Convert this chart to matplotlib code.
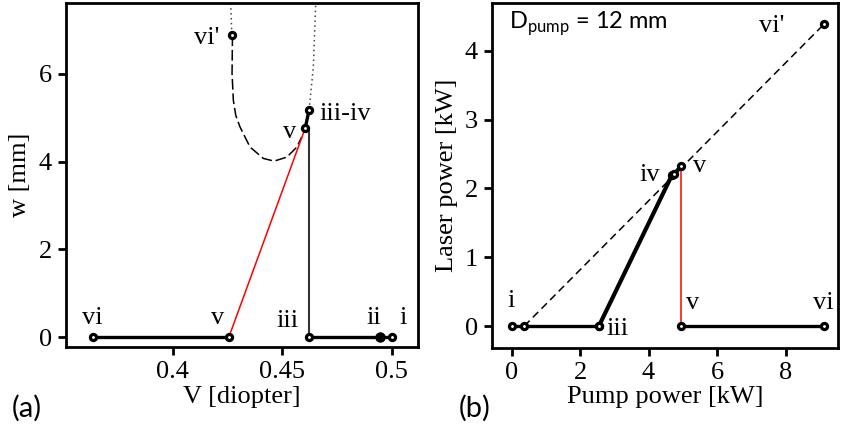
import matplotlib
matplotlib.use("Agg")
import matplotlib.pyplot as plt

plt.rcParams['font.family'] = ['Liberation Serif', 'DejaVu Serif']
plt.rcParams['mathtext.fontset'] = 'custom'
plt.rcParams['mathtext.rm'] = 'Lato'

# ---- panel (a): w vs V ----
a_base_left_x = [0.3635, 0.4256]
a_base_right_x = [0.4623, 0.4947, 0.5]
a_red_x = [0.4256, 0.4605]
a_red_y = [0.0, 4.76]
a_vert_x = [0.4623, 0.4623]
a_vert_y = [0.0, 4.76]
a_jump_x = [0.4605, 0.4623]
a_jump_y = [4.76, 5.18]
a_vip = (0.4273, 6.87)
a_dash_x = [0.4273, 0.4271, 0.4277, 0.4288, 0.4307, 0.4353, 0.4414, 0.4463, 0.4521, 0.4567, 0.4589]
a_dash_y = [6.87, 6.0, 5.39, 5.05, 4.79, 4.33, 4.07, 4.01, 4.10, 4.33, 4.56]
a_dot_left_x = [0.4265, 0.4270]
a_dot_left_y = [7.6, 6.87]
a_dot_right_x = [0.4623, 0.4627, 0.4642, 0.4653]
a_dot_right_y = [5.18, 5.39, 6.15, 7.6]
a_labels = [("vi", 0.3635, 0.44, 'center'), ("v", 0.4207, 0.44, 'center'),
            ("iii", 0.4523, 0.37, 'center'), ("ii", 0.4916, 0.44, 'center'),
            ("i", 0.505, 0.44, 'center'), ("v", 0.4536, 4.67, 'center'),
            ("iii-iv", 0.4668, 5.09, 'left'), ("vi'", 0.4155, 6.8, 'center')]

# ---- panel (b): laser power vs pump power ----
b_low_x = [0.0, 0.37, 2.55]
b_rise_x = [2.55, 4.68, 4.74, 4.96]
b_rise_y = [0.0, 2.19, 2.21, 2.32]
b_red_x = [4.96, 4.96]
b_red_y = [2.32, 0.0]
b_high_x = [4.96, 9.13]
b_dash_x = [0.37, 9.13]
b_dash_y = [0.0, 4.39]
b_labels = [("i", 0.0, 0.36, 'center'), ("iii", 3.08, -0.04, 'center'),
            ("iv", 4.04, 2.19, 'center'), ("v", 5.5, 2.32, 'center'),
            ("v", 5.3, 0.33, 'center'), ("vi", 9.1, 0.33, 'center'),
            ("vi'", 7.59, 4.36, 'center')]

FS = 19
mk = dict(marker='o', ms=4.4, mfc='white', mec='black', mew=2.3)

fig = plt.figure(figsize=(8.44, 4.29), dpi=100)
axa = fig.add_axes([0.0782, 0.1911, 0.4171, 0.8012])
axb = fig.add_axes([0.5826, 0.1895, 0.4106, 0.8028])

# panel a
axa.plot(a_dot_left_x, a_dot_left_y, color='#444444', lw=1.1, ls=(0, (1, 2.2)))
axa.plot(a_dot_right_x, a_dot_right_y, color='#444444', lw=1.1, ls=(0, (1, 2.2)))
axa.plot(a_dash_x, a_dash_y, color='black', lw=1.1, ls=(0, (7, 2.5)))
axa.plot(a_vert_x, a_vert_y, color='#333333', lw=1.5)
axa.plot(a_red_x, a_red_y, color='red', lw=1.1)
axa.plot(a_base_left_x, [0] * len(a_base_left_x), color='black', lw=2.4, **mk)
axa.plot(a_base_right_x, [0] * len(a_base_right_x), color='black', lw=2.4, **mk)
axa.plot([a_base_right_x[1]], [0], marker='o', ms=6.5, color='black')
axa.plot(a_jump_x, a_jump_y, color='black', lw=2.4, **mk)
axa.plot([a_vip[0]], [a_vip[1]], **mk)
for s, x, y, ha in a_labels:
    axa.text(x, y, s, fontsize=FS, ha=ha, va='center')
axa.set_xlim(0.3513, 0.512)
axa.set_ylim(-0.22, 7.6)
axa.set_xticks([0.4, 0.45, 0.5])
axa.set_xticklabels(['0.4', '0.45', '0.5'])
axa.set_yticks([0, 2, 4, 6])
axa.set_xlabel('V [diopter]', fontsize=FS, labelpad=2)
axa.set_ylabel('w [mm]', fontsize=FS, labelpad=6)

# panel b
axb.plot(b_dash_x, b_dash_y, color='black', lw=1.1, ls=(0, (5, 3)))
axb.plot(b_red_x, b_red_y, color='red', lw=1.1)
axb.plot(b_low_x, [0] * len(b_low_x), color='black', lw=2.4, **mk)
axb.plot(b_rise_x, b_rise_y, color='black', lw=3.0, **mk)
axb.plot(b_high_x, [0] * len(b_high_x), color='black', lw=2.4, **mk)
axb.plot([b_dash_x[-1]], [b_dash_y[-1]], **mk)
for s, x, y, ha in b_labels:
    axb.text(x, y, s, fontsize=FS, ha=ha, va='center')
axb.text(0.05, 0.94, r'D$_{\mathrm{pump}}$ = 12 mm', transform=axb.transAxes,
         fontsize=17, family=['Lato', 'DejaVu Sans'], ha='left', va='center')
axb.set_xlim(-0.58, 9.54)
axb.set_ylim(-0.315, 4.69)
axb.set_xticks([0, 2, 4, 6, 8])
axb.set_yticks([0, 1, 2, 3, 4])
axb.set_xlabel('Pump power [kW]', fontsize=FS, labelpad=2)
axb.set_ylabel('Laser power [kW]', fontsize=FS, labelpad=5)

for ax in (axa, axb):
    for sp in ax.spines.values():
        sp.set_linewidth(2.0)
    ax.tick_params(direction='out', length=6, width=2, labelsize=FS, pad=4)

fig.text(0.032, 0.048, '(a)', fontsize=21, family=['Lato', 'DejaVu Sans'], ha='center', va='center')
fig.text(0.563, 0.048, '(b)', fontsize=21, family=['Lato', 'DejaVu Sans'], ha='center', va='center')

fig.savefig('out.png', dpi=100)
